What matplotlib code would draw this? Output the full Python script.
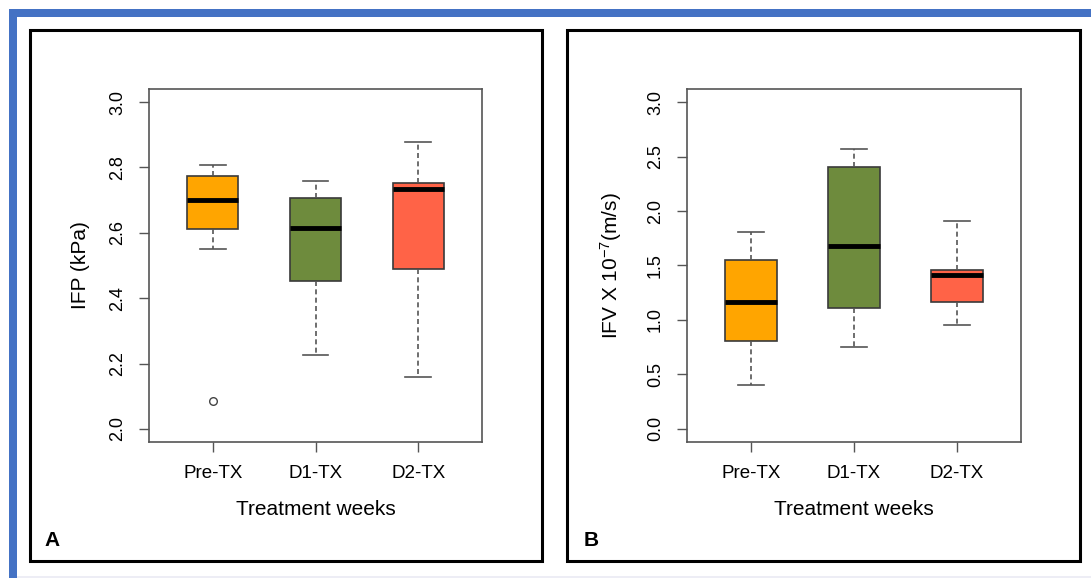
import matplotlib
matplotlib.use("Agg")
import matplotlib.pyplot as plt
from matplotlib.patches import Rectangle

plt.rcParams['font.family'] = ['Liberation Sans', 'DejaVu Sans']
plt.rcParams['mathtext.fontset'] = 'custom'
plt.rcParams['mathtext.rm'] = 'Liberation Sans'
plt.rcParams['mathtext.it'] = 'Liberation Sans:italic'
plt.rcParams['mathtext.bf'] = 'Liberation Sans:bold'

categories = ["Pre-TX", "D1-TX", "D2-TX"]
colors = ["#FFA500", "#6E8B3D", "#FF6347"]

# Panel A: IFP (kPa)
ifp_whislo = [2.549, 2.227, 2.158]
ifp_q1 = [2.612, 2.452, 2.490]
ifp_med = [2.701, 2.614, 2.733]
ifp_q3 = [2.775, 2.705, 2.751]
ifp_whishi = [2.806, 2.760, 2.879]
ifp_fliers = [[2.086], [], []]

# Panel B: IFV x 10^-7 (m/s)
ifv_whislo = [0.403, 0.752, 0.955]
ifv_q1 = [0.806, 1.107, 1.161]
ifv_med = [1.165, 1.676, 1.416]
ifv_q3 = [1.554, 2.408, 1.463]
ifv_whishi = [1.808, 2.566, 1.910]
ifv_fliers = [[], [], []]

yticks_a = [2.0, 2.2, 2.4, 2.6, 2.8, 3.0]
yticks_b = [0.0, 0.5, 1.0, 1.5, 2.0, 2.5, 3.0]

W, H = 1091, 578
fig = plt.figure(figsize=(W / 100, H / 100), dpi=100)

# blue border (top & left)
fig.patches.append(Rectangle((9 / W, 0), 8 / W, 1 - 9 / H, transform=fig.transFigure,
                             facecolor="#4472C4", edgecolor="none", zorder=0))
fig.patches.append(Rectangle((9 / W, 1 - 17 / H), 1 - 9 / W, 8 / H, transform=fig.transFigure,
                             facecolor="#4472C4", edgecolor="none", zorder=0))
# faint bottom line
fig.patches.append(Rectangle((17 / W, 0), 1 - 17 / W, 2 / H, transform=fig.transFigure,
                             facecolor="#EDEDF5", edgecolor="none", zorder=0))

# panel frames
for x0, x1 in [(30, 542), (567, 1080)]:
    fig.patches.append(Rectangle((x0 / W, 1 - 561 / H), (x1 - x0) / W, (561 - 30) / H,
                                 transform=fig.transFigure, facecolor="none",
                                 edgecolor="black", linewidth=2.2, zorder=1))


def make_stats(lo, q1, med, q3, hi, fl):
    return [dict(whislo=a, q1=b, med=c, q3=d, whishi=e, fliers=f)
            for a, b, c, d, e, f in zip(lo, q1, med, q3, hi, fl)]


def draw(ax, stats, yticks, ylim, ylabel, ylabel_x):
    bp = ax.bxp(stats, positions=[1, 2, 3], widths=0.5, patch_artist=True,
                showfliers=True,
                boxprops=dict(edgecolor="#3a3a3a", linewidth=1.2),
                medianprops=dict(color="black", linewidth=3.5),
                whiskerprops=dict(color="#555555", linewidth=1.2, linestyle=(0, (3, 2))),
                capprops=dict(color="#555555", linewidth=1.2),
                capwidths=0.25,
                flierprops=dict(marker="o", markerfacecolor="white",
                                markeredgecolor="#444444", markersize=5.5,
                                markeredgewidth=1.0))
    for patch, c in zip(bp["boxes"], colors):
        patch.set_facecolor(c)
    ax.set_xlim(0.38, 3.62)
    ax.set_ylim(*ylim)
    ax.set_xticks([1, 2, 3])
    ax.set_xticklabels(categories, fontsize=13.5)
    ax.set_yticks(yticks)
    ax.set_yticklabels([f"{v:.1f}" for v in yticks], fontsize=13,
                       rotation=90, va="center")
    ax.tick_params(axis="both", length=7.5, width=1.0, color="#555555")
    ax.tick_params(axis="x", pad=9)
    ax.tick_params(axis="y", pad=9)
    for s in ax.spines.values():
        s.set_color("#555555")
        s.set_linewidth(1.2)
    ax.set_xlabel("Treatment weeks", fontsize=15)
    ax.xaxis.set_label_coords(0.5, -0.165)
    ax.set_ylabel(ylabel, fontsize=15)
    ax.yaxis.set_label_coords(ylabel_x, 0.5)


axA = fig.add_axes([149 / W, 1 - 442 / H, 333 / W, 353 / H])
draw(axA, make_stats(ifp_whislo, ifp_q1, ifp_med, ifp_q3, ifp_whishi, ifp_fliers),
     yticks_a, (1.96, 3.04), "IFP (kPa)", -0.177)

axB = fig.add_axes([687 / W, 1 - 442 / H, 334 / W, 353 / H])
draw(axB, make_stats(ifv_whislo, ifv_q1, ifv_med, ifv_q3, ifv_whishi, ifv_fliers),
     yticks_b, (-0.12, 3.12), r"IFV X 10$^{\mathregular{-7}}$(m/s)", -0.19)

fig.text(52 / W, 1 - 541 / H, "A", fontsize=15, fontweight="bold", ha="center", va="center")
fig.text(591 / W, 1 - 541 / H, "B", fontsize=15, fontweight="bold", ha="center", va="center")

fig.savefig("out.png", dpi=100)
